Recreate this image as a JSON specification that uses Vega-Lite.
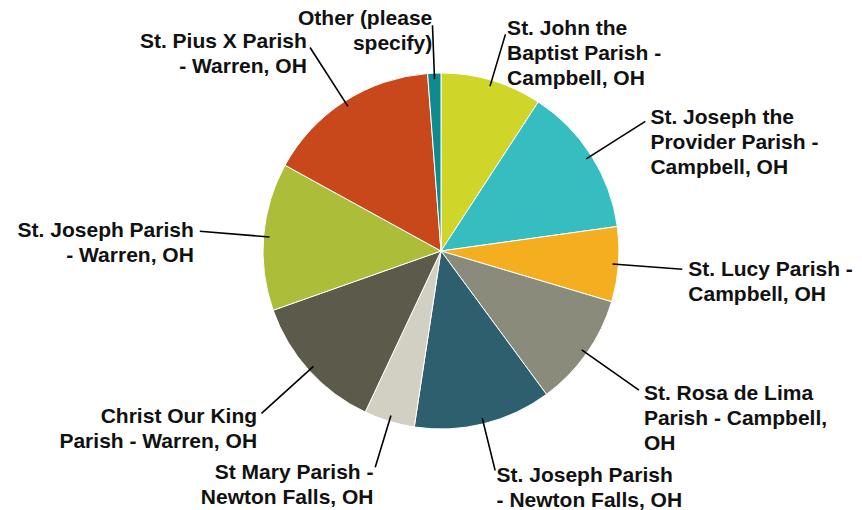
{
  "$schema": "https://vega.github.io/schema/vega-lite/v6.json",
  "width": 842,
  "height": 502,
  "autosize": {"type": "none"},
  "padding": {"left": 20, "top": 0, "right": 0, "bottom": 8},
  "background": "white",
  "view": {"stroke": null},
  "data": {
    "values": [
      {"order": 1, "parish": "St. John the Baptist Parish - Campbell, OH", "label": "St. John the\nBaptist Parish -\nCampbell, OH", "value": 9.2},
      {"order": 2, "parish": "St. Joseph the Provider Parish - Campbell, OH", "label": "St. Joseph the\nProvider Parish -\nCampbell, OH", "value": 13.6},
      {"order": 3, "parish": "St. Lucy Parish - Campbell, OH", "label": "St. Lucy Parish -\nCampbell, OH", "value": 6.8},
      {"order": 4, "parish": "St. Rosa de Lima Parish - Campbell, OH", "label": "St. Rosa de Lima\nParish - Campbell,\nOH", "value": 10.3},
      {"order": 5, "parish": "St. Joseph Parish - Newton Falls, OH", "label": "St. Joseph Parish\n- Newton Falls, OH", "value": 12.5},
      {"order": 6, "parish": "St Mary Parish - Newton Falls, OH", "label": "St Mary Parish -\nNewton Falls, OH", "value": 4.6},
      {"order": 7, "parish": "Christ Our King Parish - Warren, OH", "label": "Christ Our King\nParish - Warren, OH", "value": 12.6},
      {"order": 8, "parish": "St. Joseph Parish - Warren, OH", "label": "St. Joseph Parish\n- Warren, OH", "value": 13.4},
      {"order": 9, "parish": "St. Pius X Parish - Warren, OH", "label": "St. Pius X Parish\n- Warren, OH", "value": 15.8},
      {"order": 10, "parish": "Other (please specify)", "label": "Other (please\nspecify)", "value": 1.2}
    ]
  },
  "transform": [
    {"stack": "value", "groupby": [], "sort": [{"field": "order", "order": "ascending"}], "as": ["v0", "v1"]},
    {"joinaggregate": [{"op": "sum", "field": "value", "as": "total"}]},
    {"calculate": "(datum.v0 + datum.v1) / 2", "as": "mid"},
    {"calculate": "datum.mid / datum.total", "as": "frac"},
    {"calculate": "datum.frac < 0.08 || (datum.frac > 0.42 && datum.frac < 0.58) || datum.frac > 0.92", "as": "vertical"}
  ],
  "layer": [
    {
      "mark": {"type": "arc", "outerRadius": 178, "stroke": "white", "strokeWidth": 1},
      "encoding": {
        "theta": {"field": "v0", "type": "quantitative", "scale": {"domain": [0, 100.0], "range": [0, 6.283185307]}},
        "theta2": {"field": "v1"},
        "color": {
          "field": "parish",
          "type": "nominal",
          "sort": {"field": "order"},
          "legend": null,
          "scale": {
            "domain": [
              "St. John the Baptist Parish - Campbell, OH",
              "St. Joseph the Provider Parish - Campbell, OH",
              "St. Lucy Parish - Campbell, OH",
              "St. Rosa de Lima Parish - Campbell, OH",
              "St. Joseph Parish - Newton Falls, OH",
              "St Mary Parish - Newton Falls, OH",
              "Christ Our King Parish - Warren, OH",
              "St. Joseph Parish - Warren, OH",
              "St. Pius X Parish - Warren, OH",
              "Other (please specify)"
            ],
            "range": ["#D0D52A", "#35BDC0", "#F5AE1F", "#8B8B7B", "#2E5F6E", "#D2D0C2", "#5C5A4B", "#ABBD39", "#C8471B", "#0E8B8E"]
          }
        }
      }
    },
    {
      "transform": [{"filter": "datum.vertical"}],
      "mark": {"type": "arc", "innerRadius": 172, "outerRadius": 226, "fill": null, "stroke": "black", "strokeWidth": 1.6},
      "encoding": {
        "theta": {"field": "mid", "type": "quantitative"},
        "theta2": {"field": "mid"}
      }
    },
    {
      "transform": [{"filter": "!datum.vertical"}],
      "mark": {"type": "arc", "innerRadius": 172, "outerRadius": 242, "fill": null, "stroke": "black", "strokeWidth": 1.6},
      "encoding": {
        "theta": {"field": "mid", "type": "quantitative"},
        "theta2": {"field": "mid"}
      }
    },
    {
      "transform": [{"filter": "datum.frac < 0.5 && datum.vertical"}],
      "mark": {"type": "text", "radius": 232, "align": "left", "baseline": "middle", "lineBreak": "\n", "lineHeight": 25, "font": "Liberation Sans", "fontWeight": "bold", "fontSize": 21, "color": "#111111"},
      "encoding": {
        "theta": {"field": "mid", "type": "quantitative"},
        "text": {"field": "label"}
      }
    },
    {
      "transform": [{"filter": "datum.frac < 0.5 && !datum.vertical"}],
      "mark": {"type": "text", "radius": 248, "align": "left", "baseline": "middle", "lineBreak": "\n", "lineHeight": 25, "font": "Liberation Sans", "fontWeight": "bold", "fontSize": 21, "color": "#111111"},
      "encoding": {
        "theta": {"field": "mid", "type": "quantitative"},
        "text": {"field": "label"}
      }
    },
    {
      "transform": [{"filter": "datum.frac >= 0.5 && datum.vertical"}],
      "mark": {"type": "text", "radius": 232, "align": "right", "baseline": "middle", "lineBreak": "\n", "lineHeight": 25, "font": "Liberation Sans", "fontWeight": "bold", "fontSize": 21, "color": "#111111"},
      "encoding": {
        "theta": {"field": "mid", "type": "quantitative"},
        "text": {"field": "label"}
      }
    },
    {
      "transform": [{"filter": "datum.frac >= 0.5 && !datum.vertical"}],
      "mark": {"type": "text", "radius": 248, "align": "right", "baseline": "middle", "lineBreak": "\n", "lineHeight": 25, "font": "Liberation Sans", "fontWeight": "bold", "fontSize": 21, "color": "#111111"},
      "encoding": {
        "theta": {"field": "mid", "type": "quantitative"},
        "text": {"field": "label"}
      }
    }
  ]
}
